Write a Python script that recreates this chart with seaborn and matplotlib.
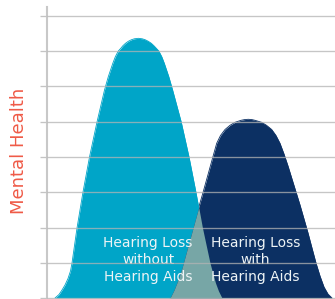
import numpy as np
import matplotlib
matplotlib.use("Agg")
import matplotlib.pyplot as plt
import seaborn as sns

# ---- data (x: 0..100 horizontal scale, y: grid units) ----
light_x = [2.78, 4.17, 5.21, 6.25, 7.29, 8.16, 8.68, 10.42, 12.5, 14.76, 17.36, 19.97,
           21.28, 22.85, 23.72, 24.76, 25.63, 26.32, 27.26, 28.23, 29.27, 30.31, 31.70,
           33.09, 34.13, 35.17, 36.22, 37.15, 37.95, 38.82, 39.86, 40.73, 42.29, 43.61,
           46.60, 49.31, 51.56, 52.53, 53.99, 55.03, 56.60, 57.53, 58.51, 59.55, 60.76]
light_y = [0.0, 0.099, 0.227, 0.369, 0.553, 0.766, 0.993, 1.986, 3.007, 4.0, 4.993, 5.901,
           6.278, 6.658, 6.843, 7.007, 7.084, 7.154, 7.225, 7.282, 7.325, 7.353, 7.367,
           7.353, 7.325, 7.282, 7.225, 7.154, 7.084, 7.007, 6.843, 6.658, 6.278, 5.901,
           4.993, 4.0, 3.064, 2.638, 1.986, 1.589, 0.993, 0.709, 0.426, 0.199, 0.0]

dark_x = [42.71, 44.10, 45.49, 46.88, 49.65, 52.43, 54.17, 56.25, 57.53, 58.92, 60.24,
          61.81, 63.54, 65.28, 67.36, 68.58, 69.90, 71.18, 72.22, 74.55, 76.22, 78.02,
          79.51, 80.90, 82.29, 83.68, 85.07, 86.46, 87.85, 89.24, 90.63, 92.01, 93.40,
          94.79, 96.18, 97.57, 98.96]
dark_y = [0.0, 0.227, 0.511, 0.851, 1.674, 2.496, 2.993, 3.603, 3.983, 4.389, 4.610,
          4.780, 4.899, 4.984, 5.041, 5.061, 5.070, 5.061, 5.041, 4.984, 4.899, 4.780,
          4.610, 4.389, 4.085, 3.745, 3.376, 3.007, 2.638, 2.241, 1.844, 1.418, 0.993,
          0.624, 0.312, 0.113, 0.0]

grid_levels = [0, 1, 2, 3, 4, 5, 6, 7, 8]
y_label = "Mental Health"
label_light = "Hearing Loss\nwithout\nHearing Aids"
label_dark = "Hearing Loss\nwith\nHearing Aids"

LIGHT = "#00a5c8"
DARK = "#0c3063"
OVERLAP = "#77a6a6"
GRID = "#b4b4b4"

sns.set_theme(style="white")
plt.rcParams["font.family"] = ["DejaVu Sans"]

fig = plt.figure(figsize=(3.35, 2.99), dpi=100)
ax = fig.add_axes([47 / 335, 0, 288 / 335, 292 / 299])

# outlines through seaborn, fills through matplotlib
sns.lineplot(x=light_x, y=light_y, color=LIGHT, linewidth=0.6, ax=ax, sort=False, zorder=1)
sns.lineplot(x=dark_x, y=dark_y, color=DARK, linewidth=0.6, ax=ax, sort=False, zorder=1)
ax.fill_between(light_x, light_y, 0, color=LIGHT, linewidth=0, zorder=1)
ax.fill_between(dark_x, dark_y, 0, color=DARK, linewidth=0, zorder=1.1)

# overlap region from both curves
gx = np.linspace(min(dark_x), max(light_x), 400)
ly = np.interp(gx, light_x, light_y, left=0, right=0)
dy = np.interp(gx, dark_x, dark_y, left=0, right=0)
ax.fill_between(gx, np.minimum(ly, dy), 0, color=OVERLAP, linewidth=0, zorder=1.2)

ax.set_xlim(0, 100)
ax.set_ylim(-0.028, 8.255)
ax.set_xticks([])
ax.set_yticks(grid_levels)
ax.set_yticklabels([])
ax.tick_params(axis="y", left=True, length=5, width=0.95, color="#c4c4c4", direction="out")
ax.set_axisbelow(False)
ax.grid(True, axis="y", color=GRID, alpha=0.75, linewidth=0.95)
ax.grid(False, axis="x")
for s in ["top", "right", "bottom"]:
    ax.spines[s].set_visible(False)
ax.spines["left"].set_color("#c8c8c8")
ax.spines["left"].set_linewidth(1.5)
ax.patch.set_alpha(0)

ax.text(35.1, 1.08, label_light, color="#eef4f6", fontsize=10, ha="center", va="center",
        linespacing=1.25, zorder=2)
ax.text(72.4, 1.08, label_dark, color="#eef4f6", fontsize=10, ha="center", va="center",
        linespacing=1.25, zorder=2)

fig.text(19 / 335, 1 - 151 / 299, y_label, color="#ef5a47", fontsize=13, rotation=90,
         ha="center", va="center")

fig.savefig("out.png", dpi=100)
